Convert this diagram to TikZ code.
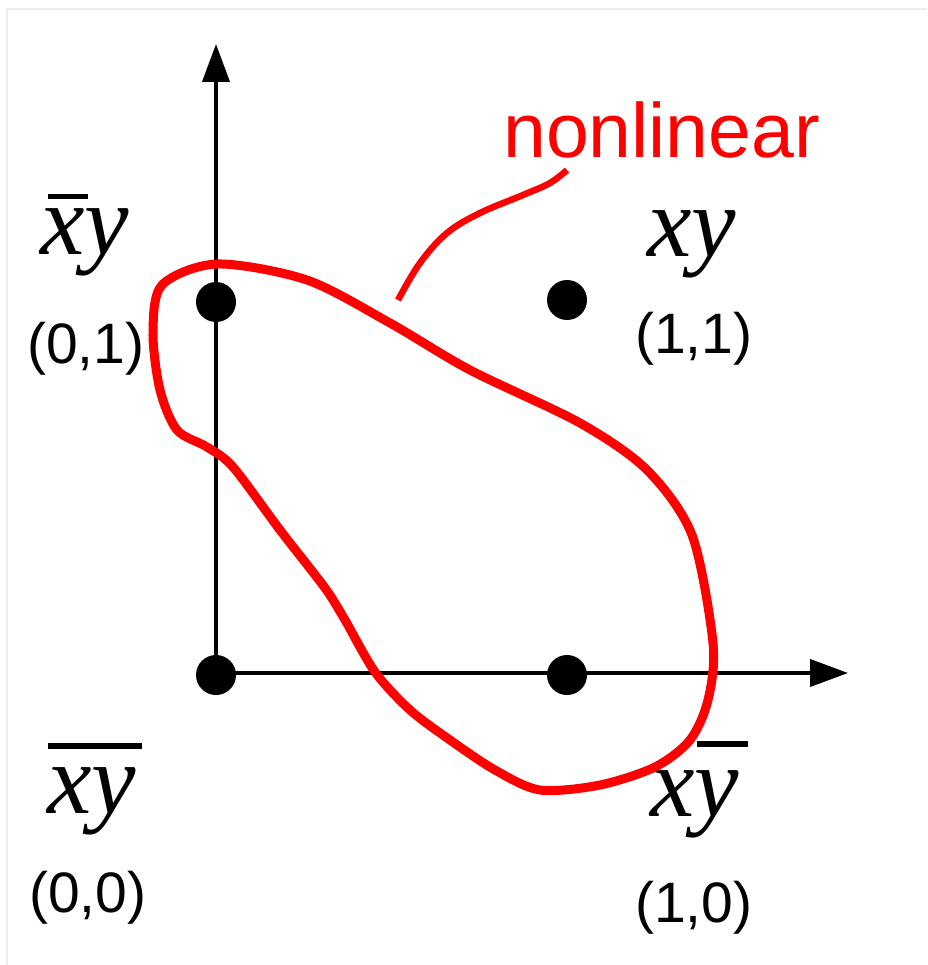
\documentclass[tikz,border=0pt]{standalone}
\usepackage{fontspec}
\setmainfont{Liberation Serif}
\newfontfamily\arialf{Liberation Sans}
\usetikzlibrary{arrows.meta}
\newcommand\barlbl[4]{\rlap{\hspace{#1}\raisebox{#2}{\rule{#3}{#4}}}}
\begin{document}
\begin{tikzpicture}[x=1pt,y=-1pt,
  axis/.style={line width=4pt,-{Triangle[length=38pt,width=27pt]}},
  dot/.style={circle,fill=black,minimum size=40pt,inner sep=0pt},
  coordlbl/.style={anchor=base west,inner sep=0pt,font=\arialf\fontsize{57}{60}\selectfont},
  varlbl/.style={anchor=base west,inner sep=0pt,font=\itshape\fontsize{100}{110}\selectfont},
  blob/.style={draw=red,line width=9pt,line join=round},
  leader/.style={draw=red,line width=6.5pt}]
\useasboundingbox (0,0) rectangle (927,965);
\draw[black!7,line width=1.5pt] (7,965) -- (7,9) -- (927,9);
% points
\node[dot] (p00) at (216,675) {};
\node[dot] (p01) at (216,302) {};
\node[dot] (p11) at (567,300) {};
\node[dot] (p10) at (567,675) {};
\coordinate (ytip) at (216,44);
\coordinate (xtip) at (848,673);
\draw[axis] (216,673) -- (ytip);
\draw[axis] (216,673) -- (xtip);
% labels
\node[varlbl] (l01) at (40,255) {\barlbl{8pt}{56pt}{40pt}{5pt}xy};
\node[coordlbl] (c01) at (27,363) {(0,1)};
\node[varlbl] (l11) at (647,257) {xy};
\node[coordlbl] (c11) at (635,353) {(1,1)};
\node[varlbl] (l00) at (47,813) {\barlbl{1pt}{64pt}{94pt}{6pt}xy};
\node[coordlbl] (c00) at (29,912) {(0,0)};
\node[varlbl] (l10) at (650,816) {\barlbl{47pt}{69pt}{51pt}{6pt}xy};
\node[coordlbl] (c10) at (635,922) {(1,0)};
\node[anchor=base west,inner sep=0pt,text=red,font=\arialf\fontsize{77}{80}\selectfont] (nl) at (503,158) {nonlinear};
% red blob
\draw[blob] plot[smooth cycle,tension=0.5] coordinates {
 (217,264) (307,280) (390,323) (470,370) (580,423)
 (647,470) (692,535) (713,643)
 (708,700) (690,740) (655,767) (600,785)
 (540,790) (495,770) (450,740) (410,710) (375,672) (345,620) (325,588)
 (280,530) (233,467) (207,447) (177,430) (160,390) (153,333) (162,285)};
% leader
\draw[leader] plot[smooth,tension=0.6] coordinates {
 (398,300) (420,263) (447,233) (480,213) (523,195) (550,183) (567,170)};
\end{tikzpicture}
\end{document}
